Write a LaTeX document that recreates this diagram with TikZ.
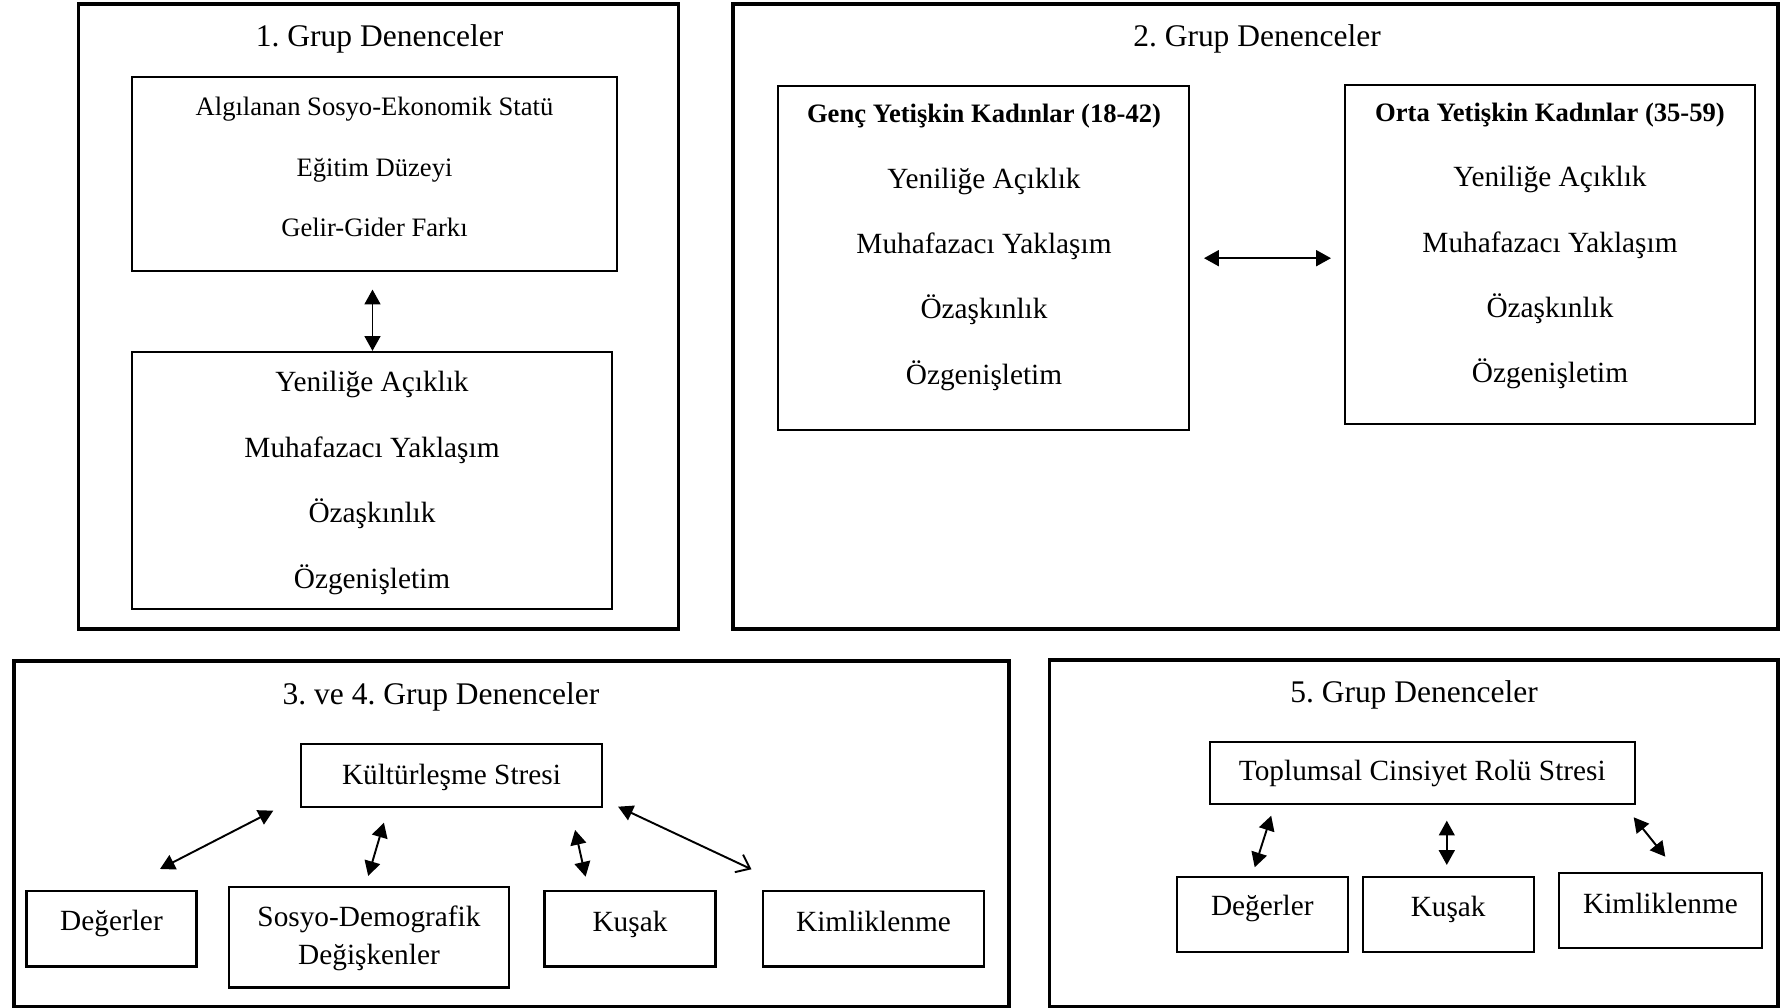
\documentclass[tikz,border=0pt]{standalone}
\usepackage{fontspec}
\setmainfont{Liberation Serif}
\usetikzlibrary{arrows.meta, positioning}
\frenchspacing

\newcommand{\bodyfont}{\fontsize{8.34}{18.6}\selectfont}
\newcommand{\smallfont}{\fontsize{7.57}{17.3}\selectfont}
\newcommand{\titlefont}{\fontsize{8.96}{11}\selectfont}

\begin{document}
\begin{tikzpicture}[
    frame/.style={draw, line width=0.95pt, inner sep=0pt},
    box/.style={draw, line width=0.6pt, inner sep=0pt},
    txt/.style={align=center, inner sep=0pt, font=\bodyfont},
    head/.style={inner sep=0pt, font=\titlefont},
    link/.style={{Triangle[length=4.2pt,width=4.5pt]}-{Triangle[length=4.2pt,width=4.5pt]}, line width=0.55pt},
    openlink/.style={{Triangle[length=4.2pt,width=4.5pt]}-{Straight Barb[length=3.5pt,width=5.5pt]}, line width=0.55pt}
]
    \useasboundingbox (0,0) rectangle (17.8,10.08);

    % 1. Grup
    \node[frame, minimum width=6.00cm, minimum height=6.25cm] (g1) at (3.784,6.915) {};
    \node[head] (g1t) at (3.797,9.695) {1. Grup Denenceler};
    \node[box, minimum width=4.847cm, minimum height=1.94cm] (g1up) at (3.7435,8.343) {};
    \node[txt, font=\smallfont] (g1upt) at (3.745,8.41) {Algılanan Sosyo-Ekonomik Statü\\ Eğitim Düzeyi\\ Gelir-Gider Farkı};
    \node[box, minimum width=4.80cm, minimum height=2.576cm] (g1low) at (3.72,5.275) {};
    \node[txt] (g1lowt) at (3.72,5.25) {Yeniliğe Açıklık\\ Muhafazacı Yaklaşım\\ Özaşkınlık\\ Özgenişletim};
    \coordinate (a1t) at (3.725,7.184);
    \coordinate (a1b) at (3.725,6.571);
    \draw[link] (a1t) -- (a1b);

    % 2. Grup
    \node[frame, minimum width=10.45cm, minimum height=6.25cm] (g2) at (12.555,6.915) {};
    \node[head] (g2t) at (12.57,9.695) {2. Grup Denenceler};
    \node[box, minimum width=4.11cm, minimum height=3.44cm] (g2l) at (9.835,7.4985) {};
    \node[txt] (g2lt) at (9.84,7.605) {{\smallfont\bfseries Genç Yetişkin Kadınlar (18-42)}\\ Yeniliğe Açıklık\\ Muhafazacı Yaklaşım\\ Özaşkınlık\\ Özgenişletim};
    \node[box, minimum width=4.10cm, minimum height=3.39cm] (g2r) at (15.4985,7.535) {};
    \node[txt] (g2rt) at (15.50,7.62) {{\smallfont\bfseries Orta Yetişkin Kadınlar (35-59)}\\ Yeniliğe Açıklık\\ Muhafazacı Yaklaşım\\ Özaşkınlık\\ Özgenişletim};
    \coordinate (a2l) at (12.04,7.498);
    \coordinate (a2r) at (13.31,7.498);
    \draw[link] (a2l) -- (a2r);

    % 3. ve 4. Grup
    \node[frame, minimum width=9.95cm, minimum height=3.455cm] (g3) at (5.115,1.7425) {};
    \node[head] (g3t) at (4.41,3.115) {3. ve 4. Grup Denenceler};
    \node[box, minimum width=3.01cm, minimum height=0.63cm] (kult) at (4.515,2.325) {};
    \node[txt] (kultt) at (4.515,2.305) {Kültürleşme Stresi};
    \node[box, minimum width=1.70cm, minimum height=0.755cm] (deg3) at (1.115,0.7925) {};
    \node[txt] (deg3t) at (1.115,0.84) {Değerler};
    \node[box, minimum width=2.80cm, minimum height=1.005cm] (sosyo) at (3.69,0.7075) {};
    \node[txt, font=\fontsize{8.34}{10.98}\selectfont] (sosyot) at (3.69,0.698) {Sosyo-Demografik\\ Değişkenler};
    \node[box, minimum width=1.71cm, minimum height=0.755cm] (kus3) at (6.30,0.7925) {};
    \node[txt] (kus3t) at (6.30,0.84) {Kuşak};
    \node[box, minimum width=2.21cm, minimum height=0.755cm] (kim3) at (8.735,0.7925) {};
    \node[txt] (kim3t) at (8.735,0.865) {Kimliklenme};
    \coordinate (a3a) at (1.60,1.39);
    \coordinate (a3b) at (2.733,1.973);
    \coordinate (a3c) at (3.682,1.32);
    \coordinate (a3d) at (3.839,1.853);
    \coordinate (a3e) at (5.751,1.78);
    \coordinate (a3f) at (5.856,1.313);
    \coordinate (a3g) at (6.181,2.013);
    \coordinate (a3h) at (7.515,1.387);
    \draw[link] (a3a) -- (a3b);
    \draw[link] (a3c) -- (a3d);
    \draw[link] (a3e) -- (a3f);
    \draw[openlink] (a3g) -- (a3h);

    % 5. Grup
    \node[frame, minimum width=7.286cm, minimum height=3.465cm] (g5) at (14.137,1.7475) {};
    \node[head] (g5t) at (14.14,3.135) {5. Grup Denenceler};
    \node[box, minimum width=4.246cm, minimum height=0.626cm] (rol) at (14.223,2.35) {};
    \node[txt] (rolt) at (14.223,2.34) {Toplumsal Cinsiyet Rolü Stresi};
    \node[box, minimum width=1.707cm, minimum height=0.756cm] (deg5) at (12.623,0.935) {};
    \node[txt] (deg5t) at (12.623,0.99) {Değerler};
    \node[box, minimum width=1.708cm, minimum height=0.756cm] (kus5) at (14.482,0.935) {};
    \node[txt] (kus5t) at (14.482,0.99) {Kuşak};
    \node[box, minimum width=2.03cm, minimum height=0.75cm] (kim5) at (16.605,0.972) {};
    \node[txt] (kim5t) at (16.605,1.05) {Kimliklenme};
    \coordinate (a5a) at (12.547,1.407);
    \coordinate (a5b) at (12.712,1.923);
    \coordinate (a5c) at (14.468,1.43);
    \coordinate (a5d) at (14.468,1.873);
    \coordinate (a5e) at (16.337,1.907);
    \coordinate (a5f) at (16.653,1.513);
    \draw[link] (a5a) -- (a5b);
    \draw[link] (a5c) -- (a5d);
    \draw[link] (a5e) -- (a5f);
\end{tikzpicture}
\end{document}
